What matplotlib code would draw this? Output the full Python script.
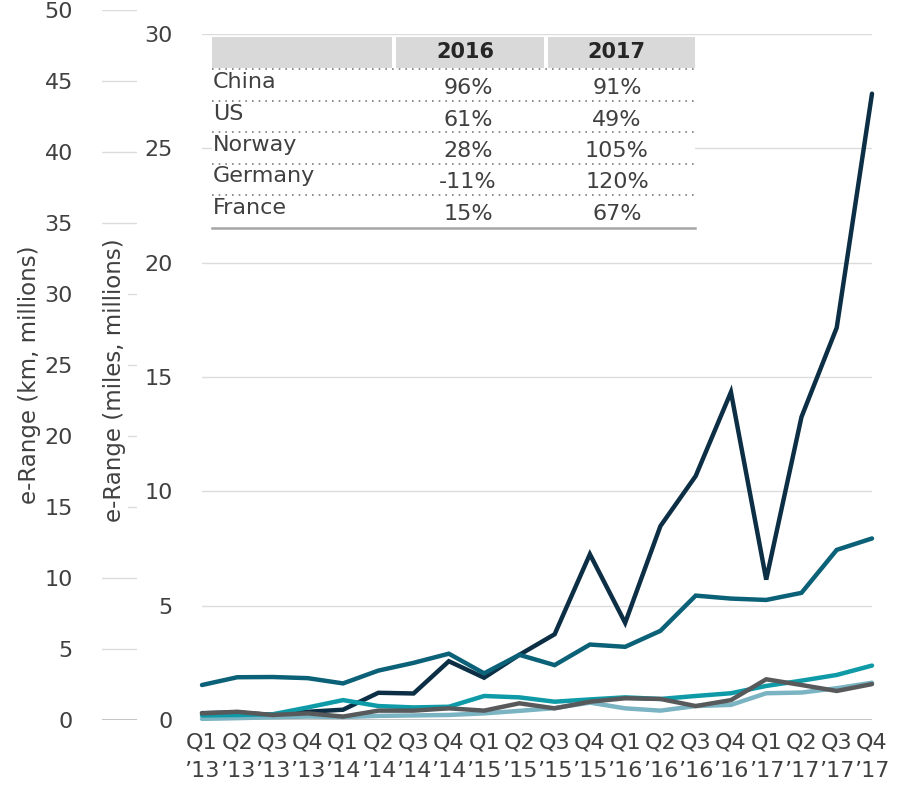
import matplotlib.pyplot as plt
from matplotlib.patches import Rectangle

# --- data (miles, millions) ---
quarters = ['Q1', 'Q2', 'Q3', 'Q4'] * 5
years = ['13'] * 4 + ['14'] * 4 + ['15'] * 4 + ['16'] * 4 + ['17'] * 4
china = [0.3, 0.33, 0.22, 0.36, 0.45, 1.19, 1.16, 2.57, 1.85, 2.85, 3.75, 7.25,
         4.25, 8.48, 10.67, 14.34, 6.14, 13.25, 17.16, 27.39]
us = [1.53, 1.87, 1.88, 1.83, 1.6, 2.16, 2.5, 2.9, 2.04, 2.85, 2.4, 3.3,
      3.2, 3.9, 5.44, 5.31, 5.25, 5.56, 7.44, 7.94]
norway = [0.2, 0.22, 0.25, 0.55, 0.87, 0.61, 0.55, 0.58, 1.05, 0.99, 0.8, 0.9,
          0.99, 0.92, 1.05, 1.17, 1.49, 1.72, 1.97, 2.38]
germany = [0.05, 0.08, 0.12, 0.15, 0.13, 0.18, 0.2, 0.22, 0.29, 0.4, 0.52, 0.76,
           0.51, 0.41, 0.61, 0.66, 1.17, 1.2, 1.39, 1.63]
france = [0.29, 0.36, 0.22, 0.29, 0.15, 0.41, 0.41, 0.51, 0.41, 0.73, 0.51, 0.8,
          0.95, 0.92, 0.61, 0.87, 1.78, 1.53, 1.27, 1.57]

# growth table
tab_countries = ['China', 'US', 'Norway', 'Germany', 'France']
tab_years = ['2016', '2017']
growth_2016 = ['96%', '61%', '28%', '-11%', '15%']
growth_2017 = ['91%', '49%', '105%', '120%', '67%']

KM_PER_MILE = 1.609344
TXT = '#404040'
plt.rcParams['font.family'] = ['DejaVu Sans']

W, H = 904, 793
fig = plt.figure(figsize=(W / 100, H / 100), dpi=100)

# main axes (miles)
ax_b, ax_h = 73 / H, 686 / H
ax = fig.add_axes([202 / W, ax_b, 670 / W, ax_h])
x = list(range(len(quarters)))
series = [(china, '#0c2f45'), (us, '#0b6177'), (germany, '#7ab3c1'),
          (norway, '#0e9aa7'), (france, '#58595b')]
for vals, col in series:
    ax.plot(x, vals, color=col, lw=3.2, solid_capstyle='round',
            solid_joinstyle='miter', clip_on=False, zorder=3)

ax.set_xlim(0, 19)
ax.set_ylim(0, 30)
ax.set_yticks(range(0, 31, 5))
ax.set_xticks(x)
ax.set_xticklabels([f'{q}\n\u2019{y}' for q, y in zip(quarters, years)],
                   linespacing=1.55)
ax.tick_params(axis='both', length=0, labelsize=16, labelcolor=TXT)
ax.tick_params(axis='y', pad=21)
ax.tick_params(axis='x', pad=9)
ax.grid(axis='y', color='#dcdcdc', lw=1)
ax.set_axisbelow(True)
for s in ax.spines.values():
    s.set_visible(False)
ax.axhline(0, color='#bfbfbf', lw=2, zorder=1)

# km axis (short stubs to the left)
km_top = 50
ax2 = fig.add_axes([102 / W, ax_b, 35 / W, ax_h * km_top / (30 * KM_PER_MILE)])
ax2.set_ylim(0, km_top)
ax2.set_xlim(0, 1)
ax2.set_yticks(range(0, km_top + 1, 5))
ax2.set_xticks([])
ax2.tick_params(axis='y', length=0, labelsize=16, labelcolor=TXT, pad=21)
ax2.grid(axis='y', color='#dcdcdc', lw=1)
ax2.axhline(0, color='#bfbfbf', lw=2)
for s in ax2.spines.values():
    s.set_visible(False)

fig.text(30 / W, 1 - 375 / H, 'e-Range (km, millions)', rotation=90,
         ha='center', va='center', fontsize=16.5, color=TXT)
fig.text(115 / W, 1 - 380 / H, 'e-Range (miles, millions)', rotation=90,
         ha='center', va='center', fontsize=16.5, color=TXT,
         bbox=dict(facecolor='white', edgecolor='none', pad=1))

# --- inset table, pixel coordinates ---
tx = fig.add_axes([0, 0, 1, 1], zorder=5)
tx.set_xlim(0, W)
tx.set_ylim(H, 0)
tx.axis('off')
left, right = 212, 695
top, bottom = 36, 229
tx.add_patch(Rectangle((left, top), right - left, bottom - top,
                       facecolor='white', edgecolor='none'))
cols = [(212, 392), (396, 544), (548, 695)]
for (c0, c1) in cols:
    tx.add_patch(Rectangle((c0, 37), c1 - c0, 31, facecolor='#d9d9d9',
                           edgecolor='none'))
for yr, (c0, c1) in zip(tab_years, cols[1:]):
    tx.text((c0 + c1) / 2 - 5, 52, yr, ha='center', va='center',
            fontsize=15, fontweight='bold', color='#262626')
row_h = 31.5
for i, name in enumerate(tab_countries):
    y0 = 69 + i * row_h
    tx.plot([left, right], [y0, y0], color='#7f7f7f', lw=1.2,
            ls=(0, (1, 3)))
    tx.text(213, y0 + 13, name, ha='left', va='center', fontsize=16,
            color=TXT)
    tx.text(468, y0 + 19, growth_2016[i], ha='center', va='center',
            fontsize=16, color=TXT)
    tx.text(617, y0 + 19, growth_2017[i], ha='center', va='center',
            fontsize=16, color=TXT)
tx.plot([left, right], [227.5, 227.5], color='#a6a6a6', lw=1.8)

fig.savefig('out.png', dpi=100)
